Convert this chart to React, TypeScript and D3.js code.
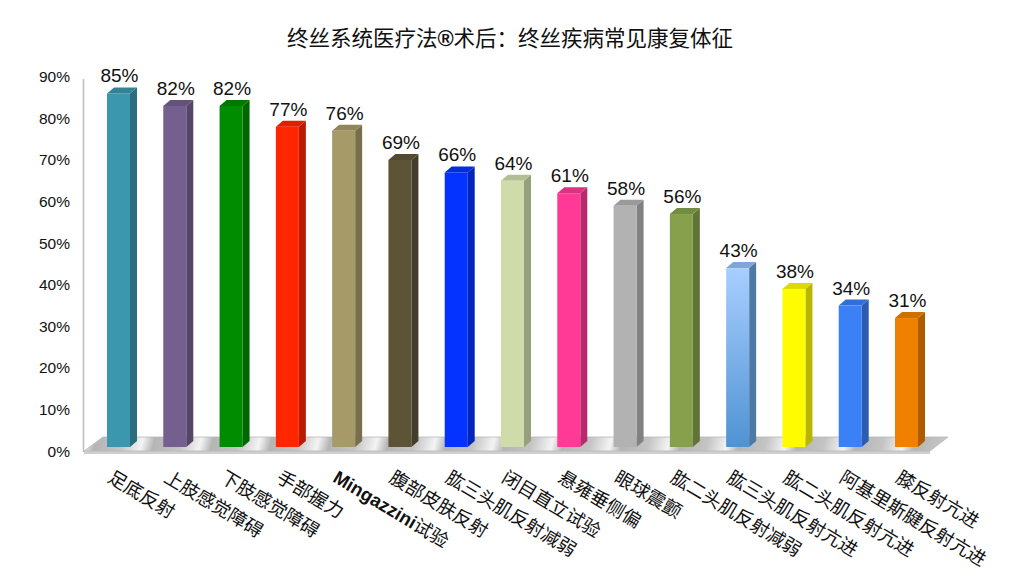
import React from "react";
import * as d3 from "d3";

const titleA = "终丝系统医疗法";
const titleB = "®";
const titleC = "术后：终丝疾病常见康复体征";
const categories = [
  "足底反射",
  "上肢感觉障碍",
  "下肢感觉障碍",
  "手部握力",
  "Mingazzini试验",
  "腹部皮肤反射",
  "肱三头肌反射减弱",
  "闭目直立试验",
  "悬雍垂侧偏",
  "眼球震颤",
  "肱二头肌反射减弱",
  "肱三头肌反射亢进",
  "肱二头肌反射亢进",
  "阿基里斯腱反射亢进",
  "膝反射亢进",
];
const values = [85, 82, 82, 77, 76, 69, 66, 64, 61, 58, 56, 43, 38, 34, 31];
const tickValues = [0, 10, 20, 30, 40, 50, 60, 70, 80, 90];
const barColors = [
  "#3A97AD", "#755F8E", "#008C00", "#FF2600", "#A59A68",
  "#5D5438", "#0433FF", "#CFDCAA", "#FF3A96", "#B2B2B2",
  "#86A04C", "#8AB8EE", "#FFFB00", "#3A80F6", "#EF8000",
];

const W = 1024;
const H = 582;
const FONT = "'Liberation Sans', Arial, Helvetica, 'Noto Sans CJK SC', sans-serif";
const CJK = "'Noto Sans CJK SC', 'Liberation Sans', sans-serif";

const y = d3.scaleLinear().domain([0, 90]).range([447, 447 - 90 * 4.16]);
const x = d3.scalePoint<string>().domain(categories).range([118.5, 906.5]);

const BW = 23;
const DX = 7;
const DY = 6;

export default function App() {
  const floorFront = 451;
  const floorBack = 437;
  const floorPts = [
    [84, floorFront],
    [103, floorBack],
    [948, floorBack],
    [930, floorFront],
  ];
  return (
    <svg width={W} height={H} style={{ display: "block", margin: "-8px", background: "#fff" }}>
      <defs>
        <linearGradient id="floorGrad" x1="0" y1="0" x2="55" y2="14" gradientUnits="userSpaceOnUse" spreadMethod="repeat">
          <stop offset="0" stopColor="#c4c4c4" />
          <stop offset="0.35" stopColor="#f4f4f4" />
          <stop offset="0.55" stopColor="#b5b5b5" />
          <stop offset="1" stopColor="#c4c4c4" />
        </linearGradient>
        <linearGradient id="lightBlue" x1="0" y1="0" x2="0" y2="1">
          <stop offset="0" stopColor="#A9CEFF" />
          <stop offset="1" stopColor="#4F93D2" />
        </linearGradient>
      </defs>
      <text x={510} y={46} textAnchor="middle" fontFamily={CJK} fontSize={21.5} fill="#111">
        {titleA}
        <tspan fontFamily={FONT} fontSize={22} fontWeight="bold">{titleB}</tspan>
        {titleC}
      </text>
      {/* axis line */}
      <line x1={83.5} y1={79} x2={83.5} y2={452} stroke="#bdbdbd" strokeWidth={1.5} />
      {/* floor */}
      <polygon
        points={[[84, floorFront], [84, floorFront + 3], [930, floorFront + 3], [930, floorFront]].map((p) => p.join(",")).join(" ")}
        fill="#cfcfcf"
      />
      <polygon points={floorPts.map((p) => p.join(",")).join(" ")} fill="url(#floorGrad)" stroke="#b8b8b8" strokeWidth={0.8} />
      {/* y tick labels */}
      {tickValues.map((t) => (
        <text key={t} x={70} y={y(t) + 4 + 5.5} textAnchor="end" fontFamily={FONT} fontSize={15.5} fill="#111">
          {t}%
        </text>
      ))}
      {/* bars */}
      {categories.map((c, i) => {
        const cx = x(c)!;
        const x0 = cx - BW / 2;
        const x1 = cx + BW / 2;
        const yt = y(values[i]);
        const yb = y(0);
        const base = d3.color(barColors[i])!;
        const side = base.darker(0.9).formatHex();
        const top = base.darker(0.4).formatHex();
        const frontFill = i === 11 ? "url(#lightBlue)" : barColors[i];
        const sideFill = i === 11 ? "#4C79A6" : side;
        const topFill = i === 11 ? "#7FA6D6" : top;
        return (
          <g key={c}>
            <polygon
              points={`${x1},${yb} ${x1 + DX},${yb - DY} ${x1 + DX},${yt - DY} ${x1},${yt}`}
              fill={sideFill}
            />
            <polygon
              points={`${x0},${yt} ${x0 + DX},${yt - DY} ${x1 + DX},${yt - DY} ${x1},${yt}`}
              fill={topFill}
            />
            <rect x={x0} y={yt} width={BW} height={yb - yt} fill={frontFill} />
            <text
              x={cx + 1}
              y={yt - DY - 5}
              textAnchor="middle"
              fontFamily={FONT}
              fontSize={19}
              fill="#111"
            >
              {values[i]}%
            </text>
          </g>
        );
      })}
      {/* category labels */}
      {categories.map((c) => {
        const cx = x(c)!;
        const ax = cx - 12;
        const ay = 481;
        const m = c.match(/^([A-Za-z]+)(.*)$/);
        return (
          <text
            key={c}
            x={ax}
            y={ay}
            transform={`rotate(31 ${ax} ${ay})`}
            fontFamily={CJK}
            fontSize={18.5}
            fill="#111"
          >
            {m ? (
              <>
                <tspan fontFamily={FONT} fontWeight="bold">{m[1]}</tspan>
                <tspan>{m[2]}</tspan>
              </>
            ) : (
              c
            )}
          </text>
        );
      })}
    </svg>
  );
}
